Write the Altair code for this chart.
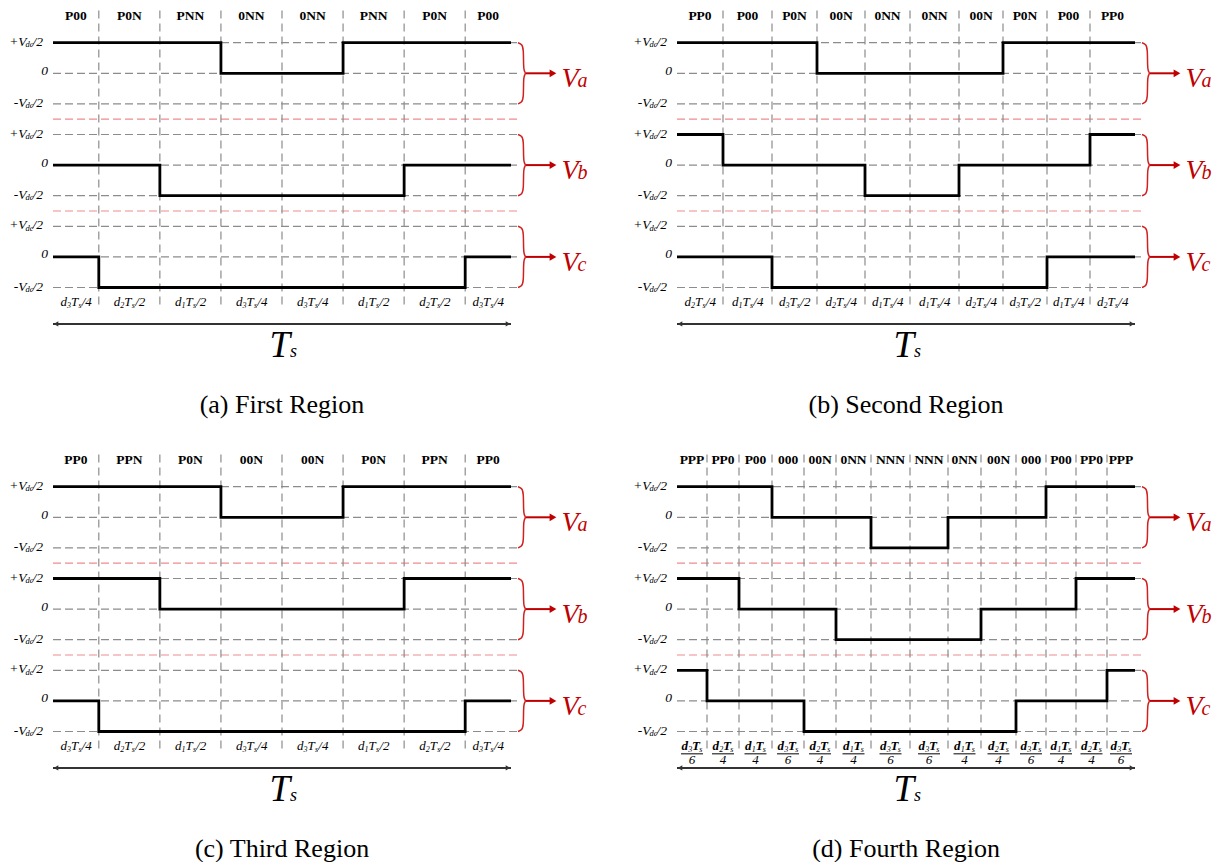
import altair as alt
import pandas as pd

# ---------------- data ----------------
states_a = ["P00", "P0N", "PNN", "0NN", "0NN", "PNN", "P0N", "P00"]
states_b = ["PP0", "P00", "P0N", "00N", "0NN", "0NN", "00N", "P0N", "P00", "PP0"]
states_c = ["PP0", "PPN", "P0N", "00N", "00N", "P0N", "PPN", "PP0"]
states_d = ["PPP", "PP0", "P00", "000", "00N", "0NN", "NNN", "NNN", "0NN", "00N", "000", "P00", "PP0", "PPP"]

# segment durations as drawn (relative)
dur_a = [0.75, 1, 1, 1, 1, 1, 1, 0.75]
dur_b = [46, 49, 45, 48, 45, 49, 44, 44, 43, 45]
dur_c = [0.75, 1, 1, 1, 1, 1, 1, 0.75]
dur_d = [30, 32, 33, 32, 32, 35, 39, 38, 33, 35, 30, 30, 31, 28]

# bottom duration labels d{sub}Ts/{den}
sub_a = ["3", "2", "1", "3", "3", "1", "2", "3"]
den_a = ["4", "2", "2", "4", "4", "2", "2", "4"]
sub_b = ["2", "1", "3", "2", "1", "1", "2", "3", "1", "2"]
den_b = ["4", "4", "2", "4", "4", "4", "4", "2", "4", "4"]
sub_c = ["3", "2", "1", "3", "3", "1", "2", "3"]
den_c = ["4", "2", "2", "4", "4", "2", "2", "4"]
sub_d = ["3", "2", "1", "3", "2", "1", "3", "3", "1", "2", "3", "1", "2", "3"]
den_d = ["6", "4", "4", "6", "4", "4", "6", "6", "4", "4", "6", "4", "4", "6"]

captions = ["(a) First Region", "(b) Second Region", "(c) Third Region", "(d) Fourth Region"]
phase_names = ["a", "b", "c"]
level_of = {"P": 1, "0": 0, "N": -1}

# ---------------- layout constants ----------------
SERIF = "Liberation Serif"
RED = "#C00000"
GRID = "#8c8c8c"
PX = 458.0          # plot width in px
UPX = 30.6          # px per level unit
CELL_W, CELL_H = 596, 418
X0 = 53.0
Y7 = 42.7
XDOM = [-X0 / PX, (CELL_W - X0) / PX]
YDOM = [7 - (CELL_H - Y7) / UPX, 7 + Y7 / UPX]
CENTERS = [6, 3, 0]

X = alt.X("x:Q", scale=alt.Scale(domain=XDOM, nice=False, zero=False), axis=None)
Y = alt.Y("y:Q", scale=alt.Scale(domain=YDOM, nice=False, zero=False), axis=None)


def px(v):
    return v / PX


def txt(df, size, align, dx=0, dy=0, color="black", style="italic", weight="normal"):
    return alt.Chart(df).mark_text(
        font=SERIF, fontSize=size, fontStyle=style, fontWeight=weight,
        align=align, baseline="alphabetic", dx=dx, dy=dy, color=color
    ).encode(x=X, y=Y, text="t:N")


def panel(states, durs, subs, dens, caption, frac=False):
    total = float(sum(durs))
    bounds = [0.0]
    for d in durs:
        bounds.append(bounds[-1] + d / total)
    mids = [(bounds[i] + bounds[i + 1]) / 2 for i in range(len(durs))]
    xg2 = 1 + px(7)
    layers = []

    # horizontal grey grid
    hg = pd.DataFrame([{"x": 0.0, "x2": xg2, "y": c + l} for c in CENTERS for l in (1, 0, -1)])
    layers.append(alt.Chart(hg).mark_rule(color=GRID, strokeWidth=1.2, strokeDash=[8, 4])
                  .encode(x=X, x2="x2:Q", y=Y))
    # red separators
    sep = pd.DataFrame({"x": [0.0, 0.0], "x2": [xg2, xg2], "y": [4.5, 1.5]})
    layers.append(alt.Chart(sep).mark_rule(color="#ee8c8c", strokeWidth=1.2, strokeDash=[8, 4])
                  .encode(x=X, x2="x2:Q", y=Y))
    # vertical grey grid
    vg = pd.DataFrame({"x": bounds[1:-1]})
    vg["y"] = 8.05
    vg["y2"] = -1.68
    layers.append(alt.Chart(vg).mark_rule(color=GRID, strokeWidth=1.2, strokeDash=[8, 5])
                  .encode(x=X, y=Y, y2="y2:Q"))

    # waveforms
    rows = []
    for k, c in enumerate(CENTERS):
        lv = [level_of[s[k]] for s in states]
        for i, l in enumerate(lv):
            rows.append({"ph": k, "x": bounds[i], "y": c + l})
        rows.append({"ph": k, "x": bounds[-1], "y": c + lv[-1]})
    wf = pd.DataFrame(rows)
    layers.append(alt.Chart(wf).mark_line(interpolate="step-after", color="black", strokeWidth=2.8)
                  .encode(x=X, y=Y, detail="ph:N"))

    # top state labels
    top = pd.DataFrame({"x": mids, "y": 7.74, "t": states})
    layers.append(txt(top, 13.5, "center", style="normal", weight="bold"))

    # bottom duration labels
    if not frac:
        yb = -1.6
        layers.append(txt(pd.DataFrame({"x": mids, "y": yb, "t": "d"}), 13, "left", dx=-15.5))
        layers.append(txt(pd.DataFrame({"x": mids, "y": yb, "t": subs}), 8, "left", dx=-9, dy=2))
        layers.append(txt(pd.DataFrame({"x": mids, "y": yb, "t": "T"}), 13, "left", dx=-5))
        layers.append(txt(pd.DataFrame({"x": mids, "y": yb, "t": "s"}), 8, "left", dx=2.5, dy=2))
        layers.append(txt(pd.DataFrame({"x": mids, "y": yb, "t": ["/" + d for d in dens]}), 13, "left", dx=5.8))
    else:
        yn = -1.62
        layers.append(txt(pd.DataFrame({"x": mids, "y": yn, "t": "d"}), 13, "left", dx=-10.5, weight="bold"))
        layers.append(txt(pd.DataFrame({"x": mids, "y": yn, "t": subs}), 8, "left", dx=-3.8, dy=2))
        layers.append(txt(pd.DataFrame({"x": mids, "y": yn, "t": "T"}), 13, "left", dx=0, weight="bold"))
        layers.append(txt(pd.DataFrame({"x": mids, "y": yn, "t": "s"}), 8, "left", dx=7.3, dy=2))
        bar = pd.DataFrame({"x": [m - px(11) for m in mids], "x2": [m + px(11) for m in mids]})
        bar["y"] = -1.73
        layers.append(alt.Chart(bar).mark_rule(color="black", strokeWidth=1)
                      .encode(x=X, x2="x2:Q", y=Y))
        layers.append(txt(pd.DataFrame({"x": mids, "y": -2.07, "t": dens}), 13, "center"))

    # left level labels
    pm = pd.DataFrame([{"x": 0.0, "y": c + 1, "t": "+V"} for c in CENTERS] +
                      [{"x": 0.0, "y": c - 1, "t": "-V"} for c in CENTERS])
    layers.append(txt(pm, 13.5, "right", dx=-26.5, dy=3))
    dc = pm.assign(t="dc")
    layers.append(txt(dc, 8.5, "right", dx=-19.5, dy=4.5))
    half = pm.assign(t="/2")
    layers.append(txt(half, 13.5, "right", dx=-10, dy=3))
    zero = pd.DataFrame({"x": 0.0, "y": CENTERS, "t": "0"})
    layers.append(txt(zero, 13.5, "right", dx=-5, dy=1.5))

    # right braces
    brace_tpl = [(7, 1.0), (11, 0.95), (12.5, 0.8), (12.5, 0.25), (13, 0.08), (15, 0.0),
                 (13, -0.08), (12.5, -0.25), (12.5, -0.8), (11, -0.95), (7, -1.0)]
    br = pd.DataFrame([{"ph": k, "i": i, "x": 1 + px(dxp), "y": c + dyu}
                       for k, c in enumerate(CENTERS) for i, (dxp, dyu) in enumerate(brace_tpl)])
    layers.append(alt.Chart(br).mark_line(interpolate="basis", color="#d02020", strokeWidth=1.5)
                  .encode(x=X, y=Y, detail="ph:N", order="i:Q"))
    arr = pd.DataFrame({"x": 1 + px(15), "x2": 1 + px(40), "y": CENTERS})
    layers.append(alt.Chart(arr).mark_rule(color=RED, strokeWidth=2).encode(x=X, x2="x2:Q", y=Y))
    head = pd.DataFrame({"x": 1 + px(42), "y": CENTERS})
    layers.append(alt.Chart(head).mark_point(shape="triangle-right", filled=True, size=60,
                                             color=RED, opacity=1).encode(x=X, y=Y))
    vl = pd.DataFrame({"x": 1.0, "y": CENTERS, "t": "V"})
    layers.append(txt(vl, 28, "left", dx=50.5, dy=14, color=RED))
    vs = pd.DataFrame({"x": 1.0, "y": CENTERS, "t": phase_names})
    layers.append(txt(vs, 20, "left", dx=66.5, dy=14, color=RED))

    # Ts arrow
    ta = pd.DataFrame({"x": [0.0], "x2": [1.0], "y": [-2.19]})
    layers.append(alt.Chart(ta).mark_rule(color="#333333", strokeWidth=2).encode(x=X, x2="x2:Q", y=Y))
    th = pd.DataFrame({"x": [px(3), 1 - px(3)], "y": [-2.19, -2.19], "s": ["triangle-left", "triangle-right"]})
    layers.append(alt.Chart(th).mark_point(filled=True, size=28, color="#333333", opacity=1)
                  .encode(x=X, y=Y, shape=alt.Shape("s:N", scale=None)))
    tl = pd.DataFrame({"x": [0.5], "y": [-3.27], "t": ["T"]})
    layers.append(txt(tl, 37, "right", dx=8))
    ts = tl.assign(t="s")
    layers.append(txt(ts, 18, "left", dx=8))

    # caption
    cap = pd.DataFrame({"x": [0.5], "y": [-5.1], "t": [caption]})
    layers.append(txt(cap, 26, "center", style="normal"))

    return alt.layer(*layers).properties(width=CELL_W, height=CELL_H)


pa = panel(states_a, dur_a, sub_a, den_a, captions[0])
pb = panel(states_b, dur_b, sub_b, den_b, captions[1])
pc = panel(states_c, dur_c, sub_c, den_c, captions[2])
pdd = panel(states_d, dur_d, sub_d, den_d, captions[3], frac=True)

chart = alt.vconcat(
    alt.hconcat(pa, pb, spacing=28),
    alt.hconcat(pc, pdd, spacing=28),
    spacing=26,
).properties(padding=0, background="white").configure_view(stroke=None)

chart.save("out.html", embed_options={"renderer": "svg", "actions": False})
